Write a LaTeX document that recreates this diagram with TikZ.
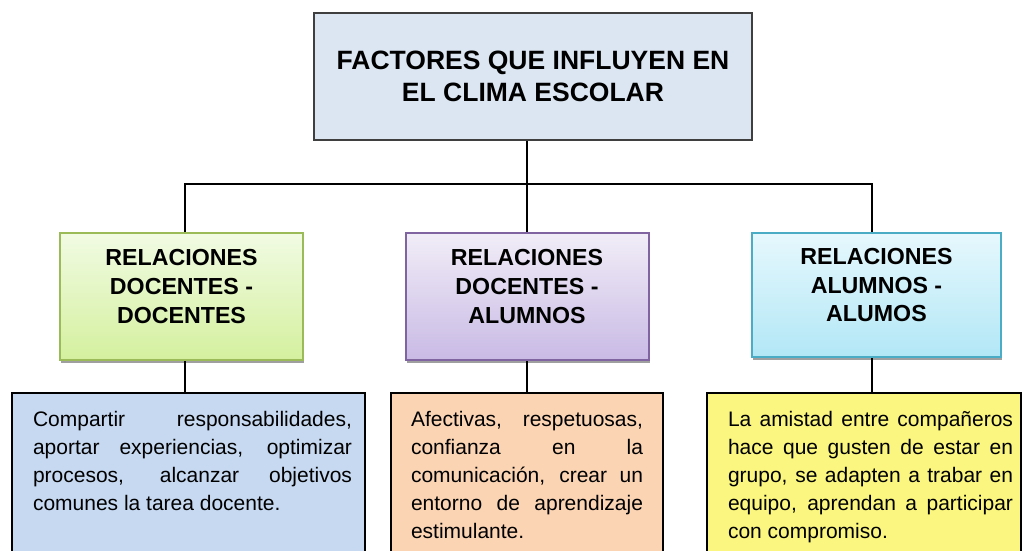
\documentclass[tikz,border=0pt]{standalone}
\usepackage{fontspec}
\setmainfont{Liberation Sans}
\usetikzlibrary{shadows}

\definecolor{titlefill}{HTML}{DCE6F2}
\definecolor{titleline}{HTML}{3F3F3F}
\definecolor{greenline}{HTML}{9BBB59}
\definecolor{greentop}{HTML}{F1FBE3}
\definecolor{greenbot}{HTML}{D4F09E}
\definecolor{violetline}{HTML}{8064A2}
\definecolor{violettop}{HTML}{F1EDF7}
\definecolor{violetbot}{HTML}{C9BAE5}
\definecolor{cyanline}{HTML}{4BACC6}
\definecolor{cyantop}{HTML}{E6F8FD}
\definecolor{cyanbot}{HTML}{B2E7F6}
\definecolor{bluefill}{HTML}{C6D9F1}
\definecolor{peachfill}{HTML}{FBD4B4}
\definecolor{yellowfill}{HTML}{FAF67F}

\tikzset{
  titlebox/.style={draw=titleline, line width=2pt, fill=titlefill,
    minimum width=438pt, minimum height=127pt, inner sep=0pt,
    align=center, font=\bfseries\fontsize{26.5}{32.3}\selectfont},
  catbox/.style={line width=2pt, minimum width=243pt, minimum height=127pt,
    inner sep=0pt, align=center, text depth=20pt,
    font=\bfseries\fontsize{23.2}{28.8}\selectfont,
    drop shadow={shadow xshift=1pt, shadow yshift=-3pt, fill=gray!75, opacity=1}},
  infobox/.style={draw=black, line width=2pt, minimum height=200pt, inner sep=0pt},
  infotext/.style={anchor=north, inner sep=0pt, align=justify,
    font=\fontsize{21}{28}\selectfont},
  conn/.style={draw=black, line width=2pt}
}

\begin{document}
\begin{tikzpicture}[x=1pt,y=-1pt]
  \clip (0,0) rectangle (1022,550);
  \fill[white] (0,0) rectangle (1022,550);

  % title
  \node[titlebox] (clima) at (533,76.5) {FACTORES QUE INFLUYEN EN\\EL CLIMA ESCOLAR};

  % three kinds of relations
  \node[catbox, draw=greenline, top color=greentop, bottom color=greenbot] (dd) at (181.5,296.5) {RELACIONES\\DOCENTES -\\DOCENTES};
  \node[catbox, draw=violetline, top color=violettop, bottom color=violetbot] (da) at (527,296.5) {RELACIONES\\DOCENTES -\\ALUMNOS};
  \node[catbox, draw=cyanline, top color=cyantop, bottom color=cyanbot, minimum width=249pt, minimum height=124pt] (aa) at (876.5,295) {RELACIONES\\ALUMNOS -\\ALUMOS};

  % descriptions
  \node[infobox, fill=bluefill, minimum width=353pt] (dd-info) at (188.5,493) {};
  \node[infobox, fill=peachfill, minimum width=272pt] (da-info) at (527,493) {};
  \node[infobox, fill=yellowfill, minimum width=314pt] (aa-info) at (864,493) {};

  \node[infotext, text width=319pt] (dd-txt) at (192.5,411) {Compartir responsabilidades,\linebreak aportar experiencias, optimizar\linebreak procesos, alcanzar objetivos\linebreak comunes la tarea docente.};
  \node[infotext, text width=232pt] (da-txt) at (527,411) {Afectivas, respetuosas,\linebreak confianza en la\linebreak comunicación, crear un\linebreak entorno de aprendizaje\linebreak estimulante.};
  \node[infotext, text width=285pt] (aa-txt) at (870.5,411) {La amistad entre compañeros\linebreak hace que gusten de estar en\linebreak grupo, se adapten a trabar en\linebreak equipo, aprendan a participar\linebreak con compromiso.};

  % connectors
  \coordinate (bus) at (0,184);
  \coordinate (dd-top) at ([xshift=3.5pt]dd.north);
  \coordinate (aa-top) at ([xshift=-4.5pt]aa.north);
  \draw[conn] (clima.south -| da.north) -- (da.north);
  \draw[conn] (dd-top) -- (dd-top |- bus) -- (aa-top |- bus) -- (aa-top);
  \draw[conn] (dd-top |- dd.south) -- (dd-top |- dd-info.north);
  \draw[conn] (da.south) -- (da-info.north);
  \draw[conn] (aa-top |- aa.south) -- (aa-top |- aa-info.north);
\end{tikzpicture}
\end{document}
